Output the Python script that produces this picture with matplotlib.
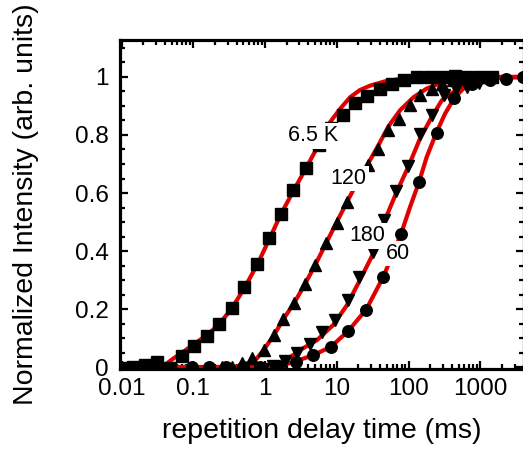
import numpy as np
import matplotlib
matplotlib.use("Agg")
import matplotlib.pyplot as plt
from matplotlib.ticker import FixedLocator, LogLocator, NullFormatter, FuncFormatter

plt.rcParams['font.family'] = ['Liberation Sans', 'DejaVu Sans']

# --- data (delay in ms, normalized intensity) ---
# 6.5 K, squares
t_65 = [0.0098, 0.0146, 0.0213, 0.031, 0.047, 0.069, 0.103, 0.154, 0.229, 0.343,
        0.515, 0.766, 1.14, 1.67, 2.48, 3.72, 5.56, 8.3, 12.3, 18, 26.2, 40, 58,
        86, 132, 199, 294, 444, 654, 1000, 1450]
i_65 = [-0.004, 0.0, 0.007, 0.018, -0.004, 0.039, 0.072, 0.107, 0.148, 0.205,
        0.276, 0.354, 0.445, 0.529, 0.609, 0.686, 0.767, 0.824, 0.87, 0.91, 0.936,
        0.959, 0.977, 0.988, 0.999, 1.0, 1.0, 1.002, 1.0, 1.0, 1.0]
# 120 K, up triangles
t_120 = [0.25, 0.35, 0.47, 0.65, 0.96, 1.33, 1.8, 2.56, 3.6, 5.0, 7.1, 9.9, 13.8,
         19.1, 27.5, 38, 52.5, 72.5, 105, 144, 210, 294, 420, 600, 850, 1200]
i_120 = [0.0, 0.0, 0.013, 0.03, 0.06, 0.11, 0.165, 0.222, 0.286, 0.352, 0.427,
         0.498, 0.568, 0.633, 0.698, 0.753, 0.816, 0.855, 0.905, 0.939, 0.959,
         0.976, 0.99, 0.995, 1.0, 1.0]
# 180 K, down triangles
t_180 = [0.95, 1.3, 1.9, 2.76, 4.2, 6.2, 9.4, 14.1, 20.4, 31.5, 45.5, 66, 98, 143,
         212, 315, 455, 660, 960, 1400]
i_180 = [-0.008, 0.004, 0.02, 0.05, 0.078, 0.12, 0.163, 0.231, 0.312, 0.395,
         0.506, 0.606, 0.692, 0.804, 0.87, 0.939, 0.96, 0.965, 0.98, 0.99]
# 60 K, circles
t_60 = [0.095, 0.165, 0.285, 0.49, 0.86, 1.5, 2.67, 4.7, 8.3, 14.5, 25.6, 44.7,
        78.5, 140, 246, 435, 770, 1360, 2250, 3900]
i_60 = [0.0, 0.0, 0.0, 0.0, 0.0, 0.005, 0.018, 0.041, 0.07, 0.125, 0.198, 0.312,
        0.459, 0.637, 0.807, 0.927, 0.975, 0.99, 0.994, 1.0]

# fitted curves (red)
fit_t_65 = [0.0095, 0.03, 0.038, 0.053, 0.069, 0.106, 0.154, 0.224, 0.343, 0.526,
            0.81, 1.14, 1.67, 2.48, 3.72, 5.56, 8.1, 11.1, 15.3, 21, 29, 47, 76,
            144, 300, 1000, 4000]
fit_i_65 = [0.0, 0.0, 0.003, 0.03, 0.049, 0.082, 0.11, 0.145, 0.202, 0.276, 0.362,
            0.44, 0.528, 0.607, 0.686, 0.765, 0.845, 0.89, 0.93, 0.955, 0.97, 0.985,
            0.993, 0.998, 1.0, 1.0, 1.0]
fit_t_120 = [0.0095, 0.3, 0.45, 0.6, 0.77, 0.96, 1.33, 1.8, 2.56, 3.6, 5.0, 7.1, 9.9,
             13.8, 19.1, 27.5, 38, 52.5, 76, 117, 179, 274, 500, 1000, 4000]
fit_i_120 = [0.0, 0.0, 0.003, 0.015, 0.03, 0.06, 0.11, 0.165, 0.222, 0.286, 0.352,
             0.427, 0.498, 0.568, 0.635, 0.703, 0.765, 0.83, 0.885, 0.93, 0.96,
             0.978, 0.993, 1.0, 1.0]
fit_t_180 = [0.0095, 0.8, 1.3, 2.0, 3.05, 5.3, 8.9, 13.8, 21, 32, 44.7, 68, 99, 144,
             210, 290, 420, 580, 900, 1500, 4000]
fit_i_180 = [0.0, 0.0, 0.005, 0.025, 0.058, 0.093, 0.145, 0.213, 0.3, 0.39, 0.495,
             0.603, 0.69, 0.787, 0.862, 0.919, 0.948, 0.97, 0.99, 1.0, 1.0]
fit_t_60 = [0.0095, 1.2, 2.0, 3.05, 4.7, 8.3, 14.5, 25.6, 44.7, 78.5, 105, 140, 179,
            246, 322, 435, 580, 800, 1500, 4000]
fit_i_60 = [0.0, 0.0, 0.01, 0.025, 0.041, 0.07, 0.125, 0.198, 0.312, 0.459, 0.552,
            0.638, 0.724, 0.81, 0.873, 0.928, 0.96, 0.977, 0.995, 1.0]

labels = ['6.5 K', '120', '180', '60']
label_pos = [(4.67, 0.797), (14.5, 0.65), (26.4, 0.452), (72.1, 0.391)]

x_ticks = [0.01, 0.1, 1, 10, 100, 1000]
y_ticks = [0, 0.2, 0.4, 0.6, 0.8, 1]

fig = plt.figure(figsize=(5.23, 4.49), dpi=100)
ax = fig.add_axes([120 / 523, 80.5 / 449, 403.5 / 523, 328.5 / 449])

red = '#e00000'
for ft, fi in [(fit_t_65, fit_i_65), (fit_t_120, fit_i_120),
               (fit_t_180, fit_i_180), (fit_t_60, fit_i_60)]:
    ax.plot(ft, fi, color=red, lw=3.0, zorder=2, solid_capstyle='round')

ms = 8.3
ax.plot(t_65, i_65, 's', color='black', ms=ms, zorder=3)
ax.plot(t_120, i_120, '^', color='black', ms=ms + 0.5, zorder=3)
ax.plot(t_180, i_180, 'v', color='black', ms=ms + 0.5, zorder=3)
ax.plot(t_60, i_60, 'o', color='black', ms=ms, zorder=3)

for txt, (lx, ly) in zip(labels, label_pos):
    ax.text(lx, ly, txt, fontsize=15.5, ha='center', va='center', zorder=5,
            bbox=dict(facecolor='white', edgecolor='none', pad=1.5))

ax.set_xscale('log')
ax.set_xlim(0.0095, 4000)
ax.set_ylim(-0.005, 1.1275)

ax.xaxis.set_major_locator(FixedLocator(x_ticks))
ax.xaxis.set_major_formatter(FuncFormatter(lambda v, p: ('%g' % v)))
ax.xaxis.set_minor_locator(LogLocator(base=10, subs=np.arange(2, 10), numticks=20))
ax.xaxis.set_minor_formatter(NullFormatter())
ax.yaxis.set_major_locator(FixedLocator(y_ticks))
ax.yaxis.set_major_formatter(FuncFormatter(lambda v, p: ('%g' % v)))
ax.yaxis.set_minor_locator(FixedLocator(np.arange(0, 1.13, 0.05)))

for s in ax.spines.values():
    s.set_linewidth(2.3)
ax.tick_params(which='both', direction='in', top=True, right=True, width=1.6)
ax.tick_params(which='major', length=6, labelsize=17.5)
ax.tick_params(axis='x', which='major', pad=7)
ax.tick_params(axis='y', which='major', pad=8)
ax.tick_params(which='minor', length=3.5)

ax.set_xlabel('repetition delay time (ms)', fontsize=20.5, labelpad=13)
ax.set_ylabel('Normalized Intensity (arb. units)', fontsize=20.5, labelpad=26)

fig.savefig('out.png', dpi=100)
